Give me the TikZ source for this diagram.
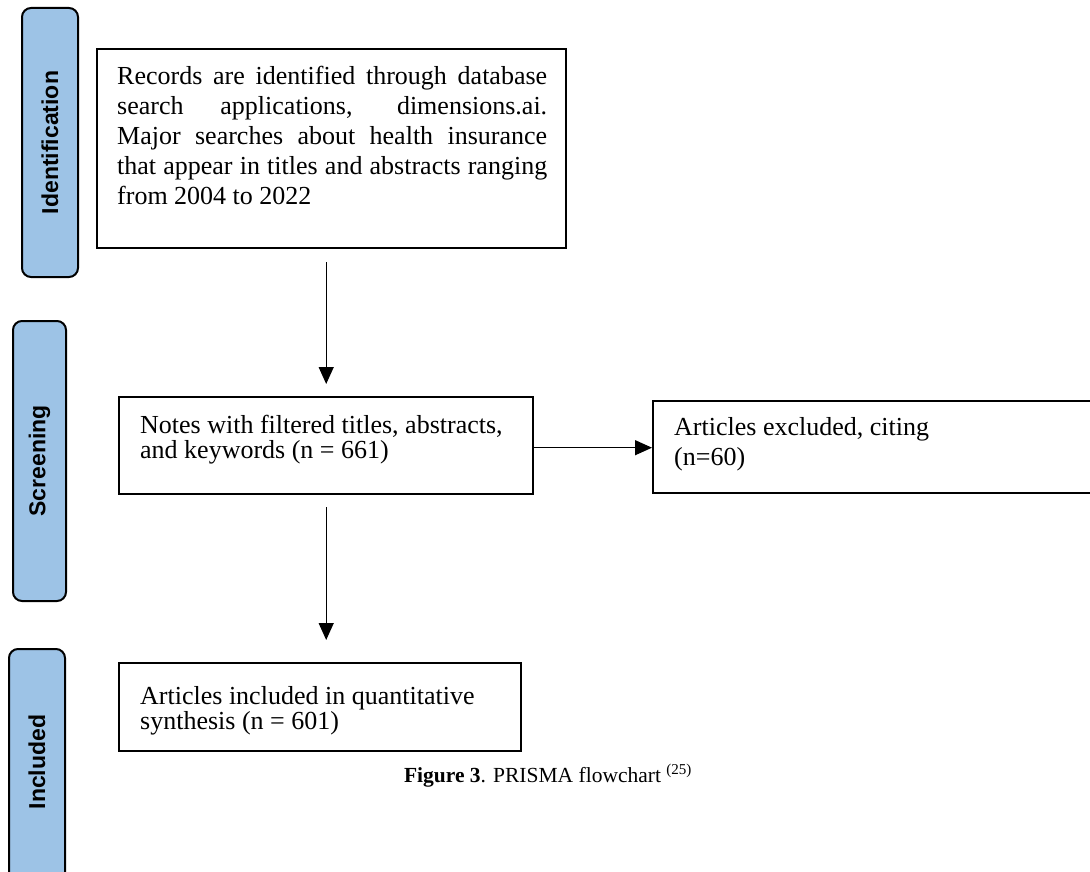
\documentclass[tikz,border=0pt]{standalone}
\usepackage{fontspec}
\setmainfont{Liberation Serif}
\newfontfamily\labelfont{Liberation Sans}
\usetikzlibrary{arrows.meta,calc}
\definecolor{barblue}{RGB}{157,195,230}
\begin{document}
\begin{tikzpicture}[x=1pt,y=-1pt,
  stagebar/.style={draw=black, line width=2pt, fill=barblue, rounded corners=9pt, anchor=north west, inner sep=0pt},
  flowbox/.style={draw=black, line width=2.4pt, inner sep=0pt, anchor=north west},
  boxtext/.style={anchor=north west, inner sep=0pt, align=left, font=\fontsize{26}{30}\selectfont},
  boxtextb/.style={boxtext, font=\fontsize{26}{25}\selectfont},
  stagetext/.style={rotate=90, font=\labelfont\bfseries\fontsize{23}{23}\selectfont, inner sep=0pt},
  arr/.style={line width=1.3pt, -{Triangle[length=17pt,width=15pt]}}]

\useasboundingbox (0,0) rectangle (1090,872);
\fill[white] (0,0) rectangle (1090,872);

% stage bars
\node[stagebar, minimum width=56pt, minimum height=269pt] (s1) at (21,7) {};
\node[stagetext] (s1t) at (s1.center) {Identification};
\node[stagebar, minimum width=53pt, minimum height=280pt] (s2) at (12,320) {};
\node[stagetext] (s2t) at (s2.center) {Screening};
\node[stagebar, minimum width=56pt, minimum height=240pt] (s3) at (8,648) {};
\node[stagetext] (s3t) at ($(s3.north)+(0,114)$) {Included};

% boxes
\node[flowbox, minimum width=469pt, minimum height=199pt] (b1) at (96,48) {};
\node[boxtext] (t1) at (117,66) {%
\makebox[430pt][s]{Records are identified through database}\\
\makebox[430pt][s]{search applications, dimensions.ai.}\\
\makebox[430pt][s]{Major searches about health insurance}\\
\makebox[430pt][s]{that appear in titles and abstracts ranging}\\
from 2004 to 2022};

\node[flowbox, minimum width=414pt, minimum height=97pt] (b2) at (118,396) {};
\node[boxtextb] (t2) at (140,415) {Notes with filtered titles, abstracts,\\ and keywords (n = 661)};

\node[flowbox, minimum width=460pt, minimum height=92pt] (b3) at (652,400) {};
\node[boxtext] (t3) at (674,417) {Articles excluded, citing\\ (n=60)};

\node[flowbox, minimum width=402pt, minimum height=88pt] (b4) at (118,662) {};
\node[boxtextb] (t4) at (140,686) {Articles included in quantitative\\ synthesis (n = 601)};

% connectors
\draw[arr] ($(b2.north |- b1.south)+(0,13)$) -- ($(b2.north)+(0,-12)$);
\draw[arr] ($(b2.south)+(0,12)$) -- ($(b4.north -| b2.south)+(0,-22)$);
\draw[arr] ($(b2.east)+(0,2)$) -- ($(b2.east -| b3.west)+(0,2)$);

% caption
\node[anchor=base, inner sep=0pt, font=\fontsize{21.5}{26}\selectfont] (cap) at (548,782) {\textbf{Figure 3}. PRISMA flowchart \textsuperscript{(25)}};
\end{tikzpicture}
\end{document}
